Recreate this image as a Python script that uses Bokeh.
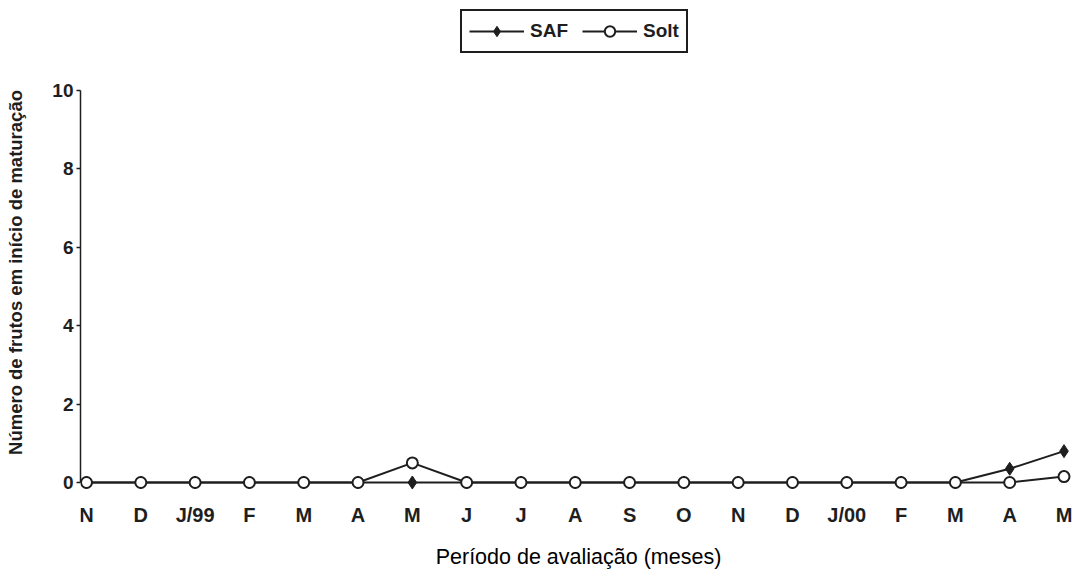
from bokeh.plotting import figure
from bokeh.models import Range1d, FixedTicker, LinearAxis, Legend, LegendItem
from bokeh.embed import file_html
from bokeh.resources import INLINE

# ---- data ----
months = ["N", "D", "J/99", "F", "M", "A", "M", "J", "J", "A", "S", "O",
          "N", "D", "J/00", "F", "M", "A", "M"]
saf = [0, 0, 0, 0, 0, 0, 0, 0, 0, 0, 0, 0, 0, 0, 0, 0, 0, 0.35, 0.8]
solt = [0, 0, 0, 0, 0, 0, 0.5, 0, 0, 0, 0, 0, 0, 0, 0, 0, 0, 0, 0.15]
y_ticks = [0, 2, 4, 6, 8, 10]
series_names = ["SAF", "Solt"]
y_title = "Número de frutos em início de maturação"
x_title = "Período de avaliação (meses)"

x = list(range(len(months)))
INK = "#1e1e1e"
FONT = "Liberation Sans"

W, H = 1076, 571
p = figure(width=W, height=H, output_backend="svg", toolbar_location=None,
           x_range=Range1d(-0.1105, 18.23), y_range=Range1d(-1.582, 12.296),
           min_border_left=80, min_border_right=0, min_border_top=0,
           min_border_bottom=27)
p.outline_line_color = None
p.xgrid.visible = False
p.ygrid.visible = False
p.background_fill_color = "white"
p.border_fill_color = "white"

# y axis (ticks 0..10 only)
ya = p.yaxis[0]
ya.ticker = FixedTicker(ticks=y_ticks)
ya.bounds = (0, 10)
ya.axis_line_color = INK
ya.axis_line_width = 1.5
ya.major_tick_line_color = INK
ya.major_tick_line_width = 1.5
ya.major_tick_out = 4
ya.major_tick_in = 0
ya.minor_tick_line_color = None
ya.major_label_standoff = 3
ya.major_label_text_font = FONT
ya.major_label_text_font_size = "19px"
ya.major_label_text_font_style = "bold"
ya.major_label_text_color = INK

# axis carrying only the y title
yt = LinearAxis(ticker=FixedTicker(ticks=[5]), major_label_overrides={5: ""},
                major_label_text_font_size="1px",
                axis_label=y_title,
                axis_line_color=None, major_tick_line_color=None,
                minor_tick_line_color=None,
                major_tick_out=0, major_tick_in=0, major_label_standoff=0,
                axis_label_standoff=24,
                axis_label_text_font=FONT, axis_label_text_font_size="18.5px",
                axis_label_text_font_style="bold", axis_label_text_color=INK)
p.add_layout(yt, "left")

# x axis: month labels hanging under the zero line
xa = p.xaxis[0]
xa.fixed_location = 0
xa.ticker = FixedTicker(ticks=x)
xa.major_label_overrides = {i: m for i, m in enumerate(months)}
xa.axis_line_color = None
xa.major_tick_line_color = None
xa.minor_tick_line_color = None
xa.major_tick_out = 0
xa.major_tick_in = 0
xa.major_label_standoff = 22
xa.major_label_text_font = FONT
xa.major_label_text_font_size = "20px"
xa.major_label_text_font_style = "bold"
xa.major_label_text_color = INK

# axis carrying only the x title
xt = LinearAxis(ticker=FixedTicker(ticks=[5]), major_label_overrides={5: ""},
                major_label_text_font_size="1px",
                axis_label=x_title,
                axis_line_color=None, major_tick_line_color=None,
                minor_tick_line_color=None,
                major_tick_out=0, major_tick_in=0, major_label_standoff=0,
                axis_label_standoff=0,
                axis_label_text_font=FONT, axis_label_text_font_size="21.5px",
                axis_label_text_font_style="normal", axis_label_text_color="black")
p.add_layout(xt, "below")

# series
l1 = p.line(x, saf, line_color=INK, line_width=2)
s1 = p.scatter(x, saf, marker="diamond", size=13, fill_color=INK,
               line_color=INK, line_width=1)
l2 = p.line(x, solt, line_color=INK, line_width=2)
s2 = p.scatter(x, solt, marker="circle", size=11, fill_color="white",
               line_color=INK, line_width=2)

legend = Legend(items=[LegendItem(label=series_names[0], renderers=[l1, s1]),
                       LegendItem(label=series_names[1], renderers=[l2, s2])],
                orientation="horizontal", location=(380, 491),
                glyph_width=55, glyph_height=26, label_standoff=6, spacing=14,
                padding=7, margin=0,
                label_text_font=FONT, label_text_font_size="19px",
                label_text_font_style="bold",
                label_text_color=INK,
                border_line_color=INK, border_line_width=2, border_line_alpha=1,
                background_fill_color="white", background_fill_alpha=1)
p.add_layout(legend, "center")

open("out.html", "w").write(file_html(p, INLINE))
